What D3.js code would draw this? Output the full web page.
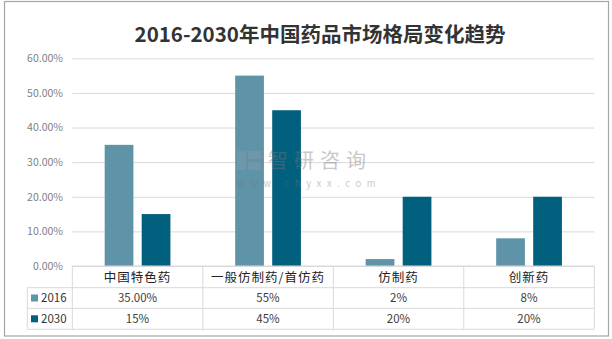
<!DOCTYPE html>
<html>
<head>
<meta charset="utf-8">
<script src="https://cdn.jsdelivr.net/npm/d3@7/dist/d3.min.js"></script>
<style>
  html, body { margin: 0; padding: 0; background: #fff; }
  svg { display: block; }
  text { font-family: "Noto Sans CJK SC", "Noto Sans", sans-serif; }
</style>
</head>
<body>
<svg id="chart" width="612" height="339"></svg>
<script>
const title = "2016-2030年中国药品市场格局变化趋势";
const categories = ["中国特色药", "一般仿制药/首仿药", "仿制药", "创新药"];
const seriesNames = ["2016", "2030"];
const values2016 = [35, 55, 2, 8];
const values2030 = [15, 45, 20, 20];
const labels2016 = ["35.00%", "55%", "2%", "8%"];
const labels2030 = ["15%", "45%", "20%", "20%"];
const yTicks = [0, 10, 20, 30, 40, 50, 60];
const colors = ["#5e93a8", "#02607f"];

const svg = d3.select("#chart");

// outer frame
svg.append("rect")
  .attr("x", 4.5).attr("y", 1.5).attr("width", 604).attr("height", 334.5)
  .attr("fill", "#fff").attr("stroke", "#a6a6a6").attr("stroke-width", 1.2);

svg.append("text")
  .attr("x", 320).attr("y", 42)
  .attr("text-anchor", "middle")
  .attr("font-size", 20.5).attr("font-weight", "bold").attr("fill", "#333")
  .text(title);

const plotLeft = 72.3, plotRight = 594.3, plotTop = 58.3, plotBottom = 266;
const y = d3.scaleLinear().domain([0, 60]).range([plotBottom, plotTop]);
const x = d3.scaleBand().domain(categories).range([plotLeft, plotRight]);
const xs = d3.scaleBand().domain(seriesNames).range([0, x.bandwidth()])
  .paddingInner(0.224).paddingOuter(0.875);

// gridlines
const grid = svg.append("g")
  .attr("transform", `translate(${plotLeft},0)`)
  .call(d3.axisLeft(y).tickValues(yTicks).tickSize(-(plotRight - plotLeft)).tickFormat(""));
grid.select(".domain").remove();
grid.selectAll("line").attr("stroke", "#d9d9d9");

// y labels
const yAxis = svg.append("g")
  .attr("transform", "translate(63,0)")
  .call(d3.axisLeft(y).tickValues(yTicks).tickSize(0).tickPadding(0)
    .tickFormat(d => d3.format(".2f")(d) + "%"));
yAxis.select(".domain").remove();
yAxis.selectAll("text").attr("font-size", 10.5).attr("fill", "#7f7f7f")
  .attr("font-family", "'Open Sans', 'Noto Sans', sans-serif");

// bars
const seriesData = [values2016, values2030];
seriesNames.forEach((s, si) => {
  svg.append("g").selectAll("rect")
    .data(categories.map((c, i) => ({ c, v: seriesData[si][i] })))
    .join("rect")
    .attr("x", d => x(d.c) + xs(s))
    .attr("width", xs.bandwidth())
    .attr("y", d => y(d.v))
    .attr("height", d => plotBottom - y(d.v))
    .attr("fill", colors[si]);
});

// watermark
const wm = svg.append("g").attr("opacity", 0.4);
wm.append("rect").attr("x", 237).attr("y", 151).attr("width", 9).attr("height", 19).attr("fill", "#8e9bab");
wm.append("rect").attr("x", 248).attr("y", 151).attr("width", 13).attr("height", 8).attr("fill", "#8e9bab");
wm.append("rect").attr("x", 248).attr("y", 162).attr("width", 13).attr("height", 8).attr("fill", "#8e9bab");
wm.append("text").attr("x", 268).attr("y", 168).attr("font-size", 20).attr("letter-spacing", 6)
  .attr("fill", "#777").text("智研咨询");
wm.append("text").attr("x", 237).attr("y", 187).attr("font-size", 9.5).attr("fill", "#777")
  .attr("letter-spacing", 5.6).text("www.chyxx.com");

// data table
const tableLeft = 27.3;
const rowY = [266, 287.7, 308.3, 329.3];
const lineColor = "#d9d9d9";
const tbl = svg.append("g");
tbl.append("line").attr("x1", plotLeft).attr("x2", plotRight).attr("y1", rowY[0]).attr("y2", rowY[0]).attr("stroke", lineColor);
[1, 2, 3].forEach(r => tbl.append("line").attr("x1", tableLeft).attr("x2", plotRight)
  .attr("y1", rowY[r]).attr("y2", rowY[r]).attr("stroke", lineColor));
tbl.append("line").attr("x1", tableLeft).attr("x2", tableLeft).attr("y1", rowY[1]).attr("y2", rowY[3]).attr("stroke", lineColor);
const bounds = categories.map(c => x(c)).concat([plotRight]);
bounds.forEach(b => tbl.append("line").attr("x1", b).attr("x2", b)
  .attr("y1", rowY[0]).attr("y2", rowY[3]).attr("stroke", lineColor));

tbl.selectAll("text.cat").data(categories).join("text")
  .attr("class", "cat")
  .attr("x", d => x(d) + x.bandwidth() / 2).attr("y", 281.5)
  .attr("text-anchor", "middle").attr("font-size", 12.5).attr("fill", "#222")
  .attr("letter-spacing", 1)
  .text(d => d);

const rowLabels = [labels2016, labels2030];
rowLabels.forEach((labels, ri) => {
  const cy = (rowY[ri + 1] + rowY[ri + 2]) / 2;
  tbl.append("rect").attr("x", 31).attr("y", cy - 3.5).attr("width", 7).attr("height", 7).attr("fill", colors[ri]);
  tbl.append("text").attr("x", 41).attr("y", cy + 4).attr("font-size", 11.5).attr("fill", "#333")
    .attr("font-family", "'Open Sans', 'Noto Sans', sans-serif")
    .text(seriesNames[ri]);
  tbl.selectAll(null).data(categories).join("text")
    .attr("x", d => x(d) + x.bandwidth() / 2).attr("y", cy + 4)
    .attr("text-anchor", "middle").attr("font-size", 11.5).attr("fill", "#404040")
    .attr("font-family", "'Open Sans', 'Noto Sans', sans-serif")
    .text((d, i) => labels[i]);
});
</script>
</body>
</html>
